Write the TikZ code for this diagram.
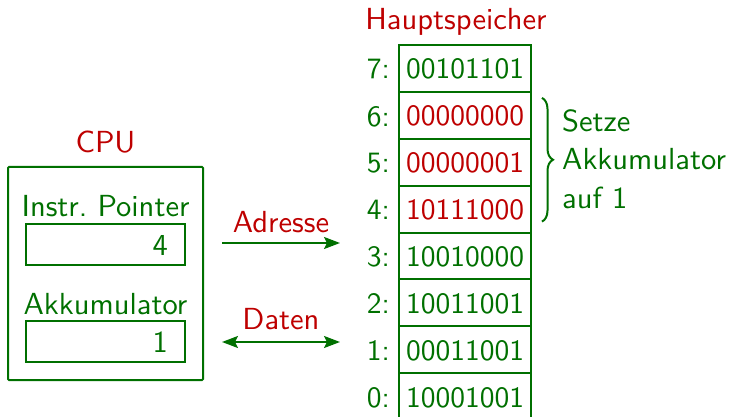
\documentclass[tikz,border=0pt]{standalone}
\usepackage{fontspec}
\setsansfont{lmsans10-regular.otf}
\usetikzlibrary{arrows.meta,decorations.pathreplacing,calc}
\definecolor{mygreen}{RGB}{0,112,0}
\definecolor{myred}{RGB}{190,0,0}
\begin{document}
\begin{tikzpicture}[x=1pt,y=-1pt,
  every node/.style={font=\fontsize{30.5}{36}\selectfont\sffamily},
  txtg/.style={text=mygreen,inner sep=0pt},
  txtr/.style={text=myred,inner sep=0pt},
  box/.style={draw=mygreen,line width=2pt,inner sep=0pt,outer sep=0pt},
  cell/.style={box,font=\fontsize{29.5}{35}\selectfont\sffamily,minimum width=132pt,minimum height=46.9pt,text height=20.5pt,text depth=0pt,anchor=north},
  conn/.style={draw=mygreen,line width=2pt,{Stealth[length=16pt,width=12pt,inset=3pt]}-{Stealth[length=16pt,width=12pt,inset=3pt]}},
  connr/.style={draw=mygreen,line width=2pt,-{Stealth[length=16pt,width=12pt,inset=3pt]}}]
\useasboundingbox (0,0) rectangle (732,417);
% CPU
\node[txtr,anchor=base] (cpulbl) at (105.5,153) {CPU};
\node[box,rounded corners=1pt,minimum width=195pt,minimum height=213pt] (cpu) at (105.5,273.5) {};
\node[txtg,anchor=base] (iplbl) at (105.5,217) {Instr.\ Pointer};
\node[box,minimum width=159pt,minimum height=41pt] (ip) at (105.5,244.5) {};
\node[txtg,anchor=east] (ipval) at ($(ip.east)+(-17,1)$) {4};
\node[txtg,anchor=base] (akklbl) at (105.5,315) {Akkumulator};
\node[box,minimum width=159pt,minimum height=41pt] (akk) at (105.5,341.5) {};
\node[txtg,anchor=east] (akkval) at ($(akk.east)+(-17,1)$) {1};
% bus
\coordinate (a1) at (222,243);
\coordinate (a2) at (340,243);
\coordinate (d1) at (222,342);
\coordinate (d2) at (340,342);
\draw[connr] (a1) -- (a2);
\draw[conn] (d1) -- (d2);
\node[txtr,anchor=base] (adr) at (281,233) {Adresse};
\node[txtr,anchor=base] (dat) at (281,330) {Daten};
% memory
\node[txtr,anchor=base] (hs) at (456,30) {Hauptspeicher};
\node[cell,text=mygreen] (m7) at (465,45) {00101101};
\node[cell,text=myred] (m6) at (m7.south) {00000000};
\node[cell,text=myred] (m5) at (m6.south) {00000001};
\node[cell,text=myred] (m4) at (m5.south) {10111000};
\node[cell,text=mygreen] (m3) at (m4.south) {10010000};
\node[cell,text=mygreen] (m2) at (m3.south) {10011001};
\node[cell,text=mygreen] (m1) at (m2.south) {00011001};
\node[cell,text=mygreen] (m0) at (m1.south) {10001001};
\foreach \i in {0,...,7}{
  \node[txtg,font=\fontsize{29.5}{35}\selectfont\sffamily,anchor=east] (l\i) at ($(m\i.west)+(-9,1)$) {\i:};
}
% brace
\draw[mygreen,line width=2pt,decorate,decoration={brace,amplitude=11pt}]
  ($(m6.north east)+(11,6)$) coordinate (b1) -- ($(m4.south east)+(11,-11)$) coordinate (b2);
\node[txtg,anchor=base west] (s1) at (562,132) {Setze};
\node[txtg,anchor=base west] (s2) at (562,170) {Akkumulator};
\node[txtg,anchor=base west] (s3) at (562,209) {auf 1};
\end{tikzpicture}
\end{document}
